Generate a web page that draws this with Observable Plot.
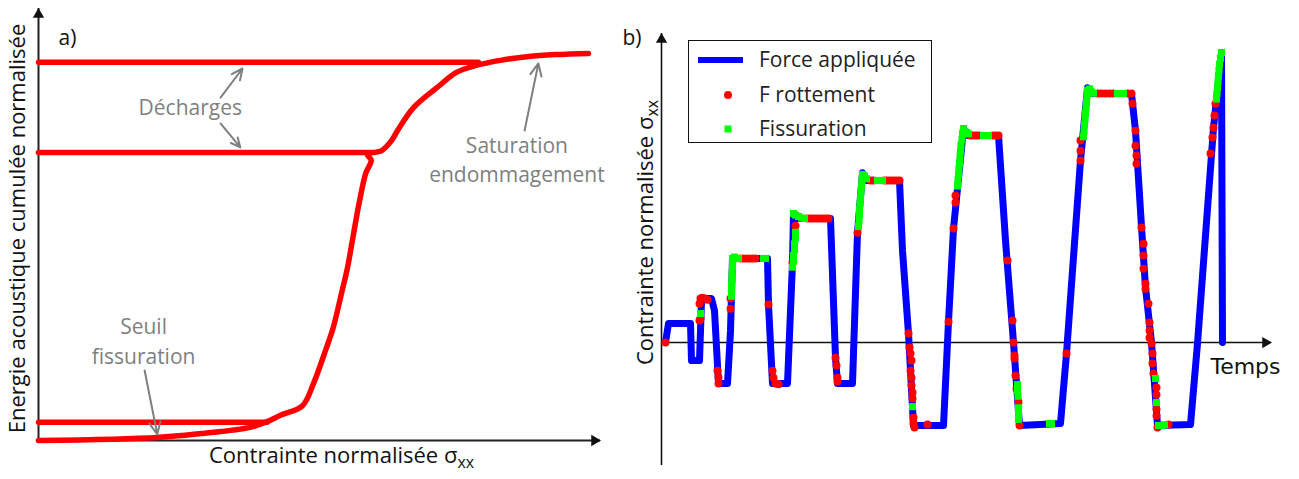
<!DOCTYPE html>
<html><head><meta charset="utf-8">
<script src="https://cdn.jsdelivr.net/npm/d3@7"></script>
<script src="https://cdn.jsdelivr.net/npm/@observablehq/plot@0.6"></script>
<style>
body{margin:0;background:#fff;}
#wrap{position:relative;width:1299px;height:479px;display:flex;}
#legend{position:absolute;left:688px;top:40px;width:242px;height:101px;border:1.5px solid #111;background:#fff;font-family:"Open Sans",sans-serif;font-size:21px;color:#222;}
#legend .lt{position:absolute;left:70px;line-height:24px;white-space:nowrap;}
</style>
</head><body>
<div id="wrap"><div id="pa"></div><div id="pb"></div>
<div id="legend">
<svg width="242" height="101" style="position:absolute;left:0;top:0">
<line x1="9" x2="54" y1="19" y2="19" stroke="#0000ff" stroke-width="6"/>
<circle cx="39" cy="54" r="4" fill="#ff0000"/>
<rect x="35.5" y="84.5" width="7" height="7" fill="#00ff00"/>
</svg>
<div class="lt" style="top:6px">Force appliquée</div>
<div class="lt" style="top:41px">F rottement</div>
<div class="lt" style="top:75px">Fissuration</div>
</div>
</div>
<script>
// ---------- Panel a data ----------
const curveSigma  = [0, 21.6, 29.5, 38.5, 41.6, 44.0, 48.0, 50.0, 52.2, 53.6, 55.1, 56.2, 57.3, 58.4, 59.5, 60.5, 59.8, 62.4, 64.2, 65.3, 68.2, 72.5, 76.0, 79.6, 84.0, 89.1, 94.2, 100];
const curveEnergy = [0, 0.8, 1.8, 3.4, 4.9, 6.5, 9.0, 14.7, 23.3, 29.2, 38.0, 44.7, 53.5, 62.0, 69.0, 72.4, 73.9, 74.9, 77.5, 80.1, 86.0, 91.2, 95.1, 96.9, 98.2, 99.2, 99.7, 100];
const unloadEnergy = [4.7, 74.4, 97.7];
const unloadEnd    = [41.6, 60.5, 80.0];
const annotLabels = ["Décharges", "Saturation", "endommagement", "Seuil", "fissuration"];
const annotSigma  = [27.6, 87.0, 87.0, 19.1, 19.1];
const annotEnergy = [85.8, 76.0, 68.5, 29.2, 21.4];
const arrowFromSigma  = [33.1, 33.1, 88.4, 19.3];
const arrowFromEnergy = [88.6, 81.9, 80.1, 18.1];
const arrowToSigma    = [37.1, 36.7, 90.9, 21.6];
const arrowToEnergy   = [96.1, 75.7, 97.4, 1.6];

// ---------- Panel b data ----------
const forceT = [4,7,29,30,38,40,42,50,53,57,66,69,71,106,107,111,126,131,132,136,169,174,176,191,196,201,205,238,241,247,252,282,287,292,302,306,337,344,352,358,399,405,419,426,430,470,474,480,484,490,496,529,536,552,560,561];
const forceS = [0,6.6,6.6,-6.2,-6.2,14.5,15.2,15.2,11,-14.1,-14.1,4,29,29,13.1,-14.1,-14.1,27.6,44.5,42.8,42.8,-5.2,-14.1,-14.1,37.9,58.6,55.9,55.9,31.7,3.1,-28.6,-28.6,7.2,39.3,73.8,71.4,71.4,35.2,0,-28.6,-27.9,-3.8,62.8,87.9,85.9,85.9,73,40,19,0,-28.6,-28.3,-0.3,74.1,100,0];
const frictionT = [4,38,39,38,39,41,43,46,56,57,57,69,69,79,82,85,88,91,94,107,111,112,114,117,131,134,146,149,152,155,158,161,164,167,174,175,176,176,196,209,212,223,226,229,232,235,238,247,248,249,250,249,250,250,251,251,252,252,253,266,287,292,294,294,309,312,315,318,331,334,337,346,351,352,353,353,354,355,357,358,405,419,419,419,436,440,444,448,452,466,470,471,474,474,475,475,480,482,482,482,484,484,487,488,488,488,490,491,491,492,495,495,495,495,496,507,549,551,552,553,554];
const frictionS = [0,7.6,8.3,13.4,15.2,15.5,15.2,14.8,-9.7,-12.1,-14.1,15.2,11.7,29,29,29,29,29,29,13.1,-9.7,-12.1,-14.1,-14.4,27.6,40.3,42.8,42.8,42.8,42.8,42.8,42.8,42.8,42.8,-5.2,-7.9,-12.1,-13.4,37.9,55.9,55.9,55.9,55.9,55.9,55.9,55.9,55.9,3.1,-1.7,-3.8,-6.2,-9.7,-12.1,-14.8,-17.2,-19.3,-25.9,-27.9,-29.3,-28.3,7.2,39.3,48.3,50.7,71.4,71.4,71.4,71.4,71.4,71.4,71.4,28.3,7.6,0,-4.5,-5.5,-11.4,-15.9,-20.5,-28.6,-3.8,62.8,66.2,69.7,85.9,85.9,85.9,85.9,85.9,85.9,85.9,82.4,73.1,67.9,64.5,61.7,39.7,34.1,30,25.5,20.3,18.6,13.4,6.9,4.1,1.7,-0.3,-3.8,-7.2,-10.7,-15.5,-18,-23,-25.2,-29.3,-28.3,65.2,70.7,74.1,78.3,82.4];
const crackT = [39,70,70,70,70.5,70.5,71,71,71,73,75,77,102,104,131,132,132,133,133,134,134,132,134,137,140,143,197,197.5,198,198,198.5,199,199.5,200,200.5,201,203,205,216,219,221,251,296,296.5,297,297.5,298,298.5,299,299.5,300.5,301,302,305,307,322,325,327,356,356,356.5,357,357,357,388,390,422,422.5,423,423.5,424,424.5,425,425.5,426,428,430,432,456,459,462,494,495,497,500,503,555,555.5,556,556.5,557,557.5,558,559,560];
const crackS = [10,16,18,20,22,24,26,28,29,29.5,29,29,29,29,26,28,30,32,34,36,38,44.5,44,43.5,43,42.8,40,42,44,46,48,50,52,54,56,58,57.5,56.5,55.9,55.9,55.9,-22.1,54,56,58,60,62,64,66,68,70,72,73.8,72.5,72,71.4,71.4,71.4,-14.5,-16.5,-18.5,-22.5,-24.5,-26.5,-27.9,-27.9,71,73,75,77,79,81,83,85,87,87.5,86.5,86,85.9,85.9,85.9,-12.4,-20.7,-28.6,-28.6,-28.4,84,86,88,90,92,94,96,98,100];

const FONT = '"Open Sans", sans-serif';
const labelA = "Energie acoustique cumulée normalisée";
const xLabel = "Contrainte normalisée σxx";
const yLabelB = "Contrainte normalisée σxx";

function subscripts(svg) {
  d3.select(svg).selectAll("text").each(function () {
    const t = this.textContent;
    if (t.endsWith("σxx")) {
      const el = d3.select(this);
      el.text(t.slice(0, -2));
      el.append("tspan").attr("dy", "0.35em").attr("font-size", "0.72em").text("xx");
    }
  });
  return svg;
}

// ---------- Panel a ----------
const curve = curveSigma.map((s, i) => ({s, e: curveEnergy[i]}));
const unload = unloadEnergy.flatMap((e, i) => [{s: 0, e, k: i}, {s: unloadEnd[i], e, k: i}]);
const annots = annotLabels.map((t, i) => ({t, s: annotSigma[i], e: annotEnergy[i]}));
const arrows = arrowFromSigma.map((s, i) => ({s1: s, e1: arrowFromEnergy[i], s2: arrowToSigma[i], e2: arrowToEnergy[i]}));

const XMAX_A = 102.2, YMAX_A = 111.6;
const pa = Plot.plot({
  width: 620, height: 479,
  marginLeft: 38, marginRight: 20, marginTop: 8, marginBottom: 39,
  style: {fontFamily: FONT, background: "white"},
  x: {domain: [0, XMAX_A], axis: null},
  y: {domain: [0, YMAX_A], axis: null},
  marks: [
    Plot.ruleY([0], {stroke: "#222", strokeWidth: 2}),
    Plot.ruleX([0], {stroke: "#222", strokeWidth: 2}),
    Plot.dot([{x: XMAX_A, y: 0}], {x: "x", y: "y", symbol: "triangle", rotate: 90, r: 4.2, fill: "#111", stroke: "none", dx: -6}),
    Plot.dot([{x: 0, y: YMAX_A}], {x: "x", y: "y", symbol: "triangle", r: 4.2, fill: "#111", stroke: "none", dy: 6}),
    Plot.line(unload, {x: "s", y: "e", z: "k", stroke: "#ff0000", strokeWidth: 5.5}),
    Plot.line(curve, {x: "s", y: "e", curve: "catmull-rom", stroke: "#ff0000", strokeWidth: 5.5, strokeLinejoin: "round", strokeLinecap: "round"}),
    Plot.arrow(arrows, {x1: "s1", y1: "e1", x2: "s2", y2: "e2", stroke: "#7f7f7f", strokeWidth: 2, headLength: 10, headAngle: 50}),
    Plot.text(annots, {x: "s", y: "e", text: "t", fill: "#7f7f7f", fontSize: 21}),
    Plot.text(["a)"], {frameAnchor: "top-left", dx: 20, dy: 22, textAnchor: "start", fontSize: 21, fill: "#111"}),
    Plot.text([xLabel], {frameAnchor: "bottom", dx: 22, dy: 22, textAnchor: "middle", fontSize: 22, fill: "#111"}),
    Plot.text([labelA], {frameAnchor: "left", dx: -21, dy: 4, rotate: -90, textAnchor: "middle", fontSize: 22, fill: "#111"})
  ]
});
document.getElementById("pa").appendChild(subscripts(pa));

// ---------- Panel b ----------
const force = forceT.map((t, i) => ({t, s: forceS[i]}));
const friction = frictionT.map((t, i) => ({t, s: frictionS[i]}));
const crack = crackT.map((t, i) => ({t, s: crackS[i]}));
const XMAX_B = 610, YMIN_B = -42.4, YMAX_B = 106.6;
const pb = Plot.plot({
  width: 679, height: 479,
  marginLeft: 41, marginRight: 28, marginTop: 33, marginBottom: 14,
  style: {fontFamily: FONT, background: "white"},
  x: {domain: [0, XMAX_B], axis: null},
  y: {domain: [YMIN_B, YMAX_B], axis: null},
  marks: [
    Plot.ruleY([0], {stroke: "#111", strokeWidth: 1.6}),
    Plot.ruleX([0], {stroke: "#111", strokeWidth: 1.6}),
    Plot.dot([{x: XMAX_B, y: 0}], {x: "x", y: "y", symbol: "triangle", rotate: 90, r: 4.2, fill: "#111", stroke: "none", dx: -6}),
    Plot.dot([{x: 0, y: YMAX_B}], {x: "x", y: "y", symbol: "triangle", r: 4.2, fill: "#111", stroke: "none", dy: 6}),
    Plot.line(force, {x: "t", y: "s", stroke: "#0000ff", strokeWidth: 7, strokeLinejoin: "round", strokeLinecap: "round"}),
    Plot.dot(friction, {x: "t", y: "s", r: 4, fill: "#ff0000", stroke: "none"}),
    Plot.dot(crack, {x: "t", y: "s", symbol: "square", r: 4, fill: "#00ff00", stroke: "none"}),
    Plot.text(["b)"], {frameAnchor: "top-left", dx: -39, dy: -3, textAnchor: "start", fontSize: 21, fill: "#111"}),
    Plot.text(["Temps"], {x: XMAX_B, y: 0, dx: -26, dy: 24, fontSize: 22, fontFamily: "DejaVu Sans", fill: "#111"}),
    Plot.text([yLabelB], {frameAnchor: "left", dx: -16, dy: -17, rotate: -90, textAnchor: "middle", fontSize: 22, fill: "#111"})
  ]
});
document.getElementById("pb").appendChild(subscripts(pb));
</script>
</body></html>
